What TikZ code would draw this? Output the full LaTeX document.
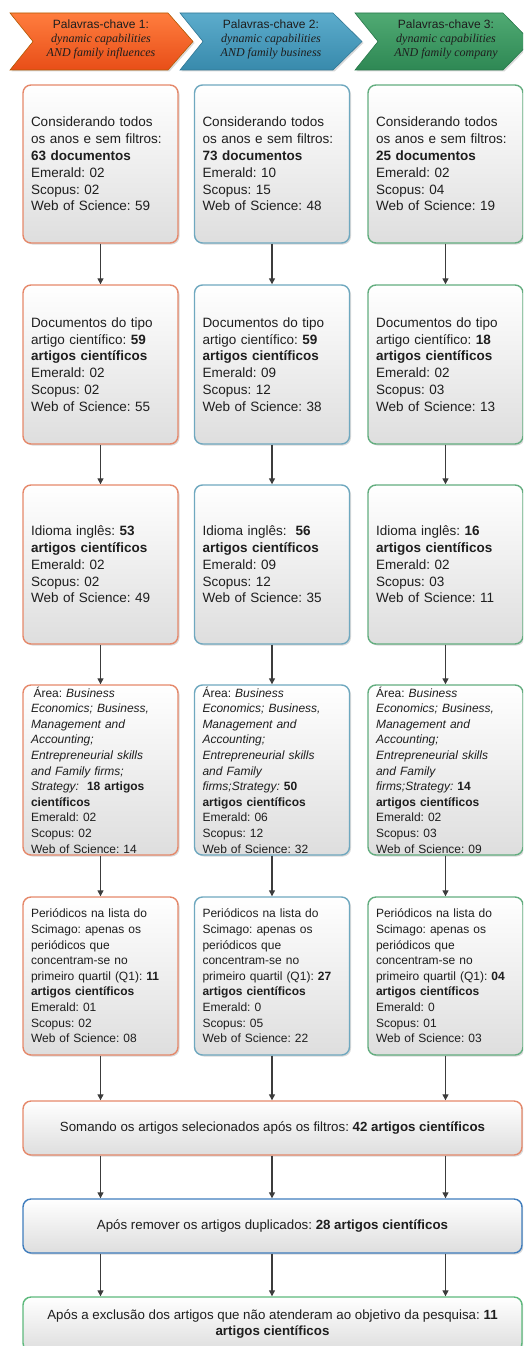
\documentclass[tikz,border=0pt]{standalone}
\usepackage{fontspec}
\setmainfont{Liberation Sans}
\newfontfamily\tnr{Liberation Serif}
\usetikzlibrary{arrows.meta,shadows}
\frenchspacing
\definecolor{txt}{HTML}{1E1E1E}
\definecolor{bOr}{HTML}{E5886A}
\definecolor{bBl}{HTML}{6FA8BF}
\definecolor{bGr}{HTML}{63AD7F}
\definecolor{bBl2}{HTML}{3F7DBD}
\definecolor{bGr2}{HTML}{5DB97C}
\definecolor{arr}{HTML}{3C3C3C}
\newcommand{\bigtxt}{\frenchspacing\fontsize{13.5}{16.8}\selectfont}
\newcommand{\smltxt}{\frenchspacing\fontsize{12}{15.6}\selectfont}
\newcommand{\myit}{\itshape}
\tikzset{
  box/.style={draw, line width=1.4pt, rounded corners=8pt,
    top color=white, bottom color=black!13,
    drop shadow={shadow xshift=1.5pt,shadow yshift=-1.5pt,opacity=0.3},
    minimum width=155pt, inner xsep=8pt, inner ysep=0pt,
    text width=139pt, align=left, text=txt},
  wide/.style={draw, line width=1.4pt, rounded corners=8pt,
    top color=white, bottom color=black!13,
    drop shadow={shadow xshift=1.5pt,shadow yshift=-1.5pt,opacity=0.3},
    minimum width=499pt, minimum height=54pt, inner sep=0pt,
    align=center, text=txt, font=\frenchspacing\fontsize{13.3}{16}\selectfont},
  flow/.style={draw=arr, line width=1.3pt, -{Triangle[length=6pt,width=6pt]}},
  head/.style={align=center, text=txt, font=\frenchspacing\fontsize{12}{14}\selectfont},
  chev/.style={line width=0.6pt, drop shadow={shadow xshift=1.5pt,shadow yshift=-1.5pt,opacity=0.3}}
}
\begin{document}
\begin{tikzpicture}[x=1pt,y=-1pt]
\useasboundingbox (0,0) rectangle (523,1346);
\clip (0,0) rectangle (523,1346);
% header chevrons
\path[chev, draw=orange!70!black, top color={rgb,255:red,255;green,125;blue,62}, bottom color={rgb,255:red,232;green,78;blue,24}]
  (10,13) -- (168,13) -- (193,41.5) -- (168,70) -- (10,70) -- (33,41.5) -- cycle;
\path[chev, draw={rgb,255:red,50;green,120;blue,150}, top color={rgb,255:red,92;green,172;blue,204}, bottom color={rgb,255:red,56;green,138;blue,172}]
  (180,13) -- (333,13) -- (362,41.5) -- (333,70) -- (180,70) -- (203,41.5) -- cycle;
\path[chev, draw={rgb,255:red,40;green,120;blue,75}, top color={rgb,255:red,80;green,170;blue,115}, bottom color={rgb,255:red,46;green,136;blue,84}]
  (355,13) -- (503,13) -- (531,41.5) -- (503,70) -- (355,70) -- (378,41.5) -- cycle;
\node[head] (h1) at (101,39.5) {Palavras-chave 1:\\{\tnr\itshape dynamic capabilities}\\{\tnr\itshape AND family influences}};
\node[head] (h2) at (271,39.5) {Palavras-chave 2:\\{\tnr\itshape dynamic capabilities}\\{\tnr\itshape AND family business}};
\node[head] (h3) at (446,39.5) {Palavras-chave 3:\\{\tnr\itshape dynamic capabilities}\\{\tnr\itshape AND family company}};

% row 1
\node[box, draw=bOr, minimum height=158pt, font=\bigtxt] (a1) at (100.5,164) {Considerando todos\\os anos e sem filtros:\\\textbf{63 documentos}\\Emerald: 02\\Scopus: 02\\Web of Science: 59};
\node[box, draw=bBl, minimum height=158pt, font=\bigtxt] (a2) at (272,164) {Considerando todos\\os anos e sem filtros:\\\textbf{73 documentos}\\Emerald: 10\\Scopus: 15\\Web of Science: 48};
\node[box, draw=bGr, minimum height=158pt, font=\bigtxt] (a3) at (445.5,164) {Considerando todos\\os anos e sem filtros:\\\textbf{25 documentos}\\Emerald: 02\\Scopus: 04\\Web of Science: 19};
% row 2
\node[box, draw=bOr, minimum height=159pt, font=\bigtxt] (b1) at (100.5,364.5) {Documentos do tipo\\artigo científico: \textbf{59}\\\textbf{artigos científicos}\\Emerald: 02\\Scopus: 02\\Web of Science: 55};
\node[box, draw=bBl, minimum height=159pt, font=\bigtxt] (b2) at (272,364.5) {Documentos do tipo\\artigo científico: \textbf{59}\\\textbf{artigos científicos}\\Emerald: 09\\Scopus: 12\\Web of Science: 38};
\node[box, draw=bGr, minimum height=159pt, font=\bigtxt] (b3) at (445.5,364.5) {Documentos do tipo\\artigo científico: \textbf{18}\\\textbf{artigos científicos}\\Emerald: 02\\Scopus: 03\\Web of Science: 13};
% row 3
\node[box, draw=bOr, minimum height=159pt, font=\bigtxt] (c1) at (100.5,564.5) {Idioma inglês: \textbf{53}\\\textbf{artigos científicos}\\Emerald: 02\\Scopus: 02\\Web of Science: 49};
\node[box, draw=bBl, minimum height=159pt, font=\bigtxt] (c2) at (272,564.5) {Idioma inglês:\ \ \textbf{56}\\\textbf{artigos científicos}\\Emerald: 09\\Scopus: 12\\Web of Science: 35};
\node[box, draw=bGr, minimum height=159pt, font=\bigtxt] (c3) at (445.5,564.5) {Idioma inglês: \textbf{16}\\\textbf{artigos científicos}\\Emerald: 02\\Scopus: 03\\Web of Science: 11};
% row 4
\node[box, draw=bOr, minimum height=170pt, font=\smltxt] (d1) at (100.5,770) {\hspace*{2.5pt}Área: {\myit Business}\\{\myit Economics; Business,}\\{\myit Management and}\\{\myit Accounting;}\\{\myit Entrepreneurial skills}\\{\myit and Family firms;}\\{\myit Strategy:}\ \ \textbf{18 artigos}\\\textbf{científicos}\\Emerald: 02\\Scopus: 02\\Web of Science: 14};
\node[box, draw=bBl, minimum height=170pt, font=\smltxt] (d2) at (272,770) {Área: {\myit Business}\\{\myit Economics; Business,}\\{\myit Management and}\\{\myit Accounting;}\\{\myit Entrepreneurial skills}\\{\myit and Family}\\{\myit firms;Strategy:} \textbf{50}\\\textbf{artigos científicos}\\Emerald: 06\\Scopus: 12\\Web of Science: 32};
\node[box, draw=bGr, minimum height=170pt, font=\smltxt] (d3) at (445.5,770) {Área: {\myit Business}\\{\myit Economics; Business,}\\{\myit Management and}\\{\myit Accounting;}\\{\myit Entrepreneurial skills}\\{\myit and Family}\\{\myit firms;Strategy:} \textbf{14}\\\textbf{artigos científicos}\\Emerald: 02\\Scopus: 03\\Web of Science: 09};
% row 5
\node[box, draw=bOr, minimum height=158pt, font=\smltxt] (e1) at (100.5,976) {Periódicos na lista do\\Scimago: apenas os\\periódicos que\\concentram-se no\\primeiro quartil (Q1): \textbf{11}\\\textbf{artigos científicos}\\Emerald: 01\\Scopus: 02\\Web of Science: 08};
\node[box, draw=bBl, minimum height=158pt, font=\smltxt] (e2) at (272,976) {Periódicos na lista do\\Scimago: apenas os\\periódicos que\\concentram-se no\\primeiro quartil (Q1): \textbf{27}\\\textbf{artigos científicos}\\Emerald: 0\\Scopus: 05\\Web of Science: 22};
\node[box, draw=bGr, minimum height=158pt, font=\smltxt] (e3) at (445.5,976) {Periódicos na lista do\\Scimago: apenas os\\periódicos que\\concentram-se no\\primeiro quartil (Q1): \textbf{04}\\\textbf{artigos científicos}\\Emerald: 0\\Scopus: 01\\Web of Science: 03};
% bottom rows
\node[wide, draw=bOr] (f) at (272.5,1128) {Somando os artigos selecionados após os filtros: \textbf{42 artigos científicos}};
\node[wide, draw=bBl2] (g) at (272.5,1226) {Após remover os artigos duplicados: \textbf{28 artigos científicos}};
\node[wide, draw=bGr2] (h) at (272.5,1324) {Após a exclusão dos artigos que não atenderam ao objetivo da pesquisa: \textbf{11}\\\textbf{artigos científicos}};

% arrows
\foreach \u/\v in {a1/b1,a2/b2,a3/b3,b1/c1,b2/c2,b3/c3,c1/d1,c2/d2,c3/d3,d1/e1,d2/e2,d3/e3}
  \draw[flow] (\u.south) -- (\v.north);
\foreach \u in {e1,e2,e3} {
  \draw[flow] (\u.south) -- (\u.south |- f.north);
  \draw[flow] (f.south -| \u) -- (g.north -| \u);
  \draw[flow] (g.south -| \u) -- (h.north -| \u);
}
\end{tikzpicture}
\end{document}
